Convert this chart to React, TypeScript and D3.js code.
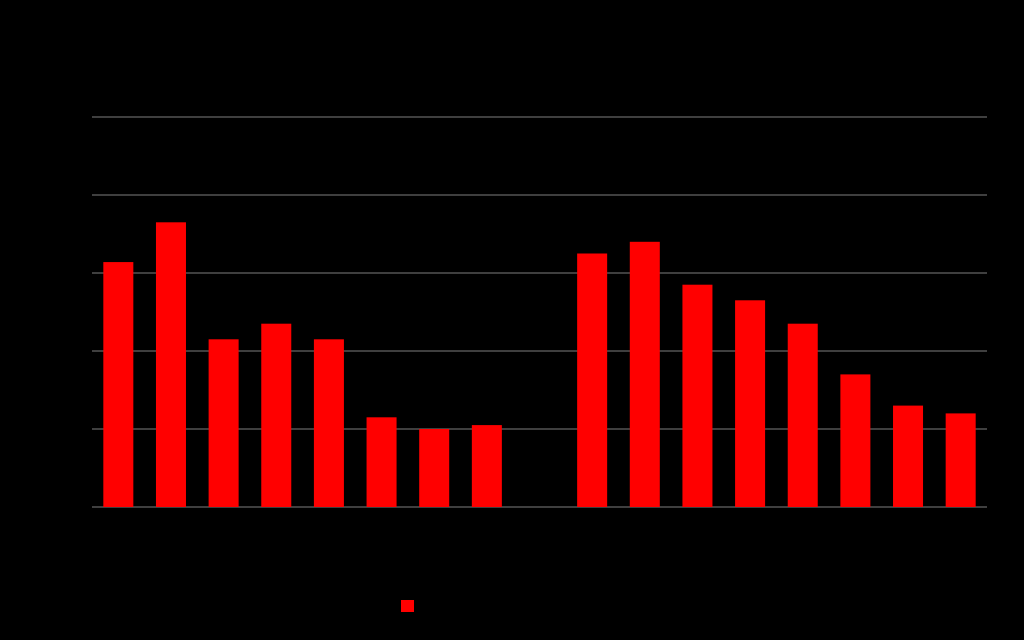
import React from "react";
import * as d3 from "d3";

const categories = ["A1", "A2", "A3", "A4", "A5", "A6", "A7", "A8", "", "B1", "B2", "B3", "B4", "B5", "B6", "B7", "B8"];
const values: (number | null)[] = [3.14, 3.65, 2.15, 2.35, 2.15, 1.15, 1.0, 1.05, null, 3.25, 3.4, 2.85, 2.65, 2.35, 1.7, 1.3, 1.2];
const yTicks = [0, 1, 2, 3, 4, 5];
const seriesName = "Series 1";

export default function App() {
  const W = 1024, H = 640;
  const left = 92, right = 987, top = 117, bottom = 507;
  const x = d3.scaleBand<string>().domain(categories.map((c, i) => c + "|" + i)).range([left, right]).paddingInner(0.43).paddingOuter(0.215);
  const y = d3.scaleLinear().domain([0, 5]).range([bottom, top]);
  return (
    <svg width={W} height={H} style={{ position: "fixed", left: 0, top: 0, background: "#000" }} fontFamily="Liberation Sans, Arial, sans-serif">
      <rect x={0} y={0} width={W} height={H} fill="#000" />
      {yTicks.map((t) => (
        <g key={t}>
          <line x1={left} x2={right} y1={y(t)} y2={y(t)} stroke="#7f7f7f" strokeWidth={1} />
          <text x={left - 8} y={y(t)} dy="0.35em" textAnchor="end" fontSize={12} fill="#000">{t}</text>
        </g>
      ))}
      {categories.map((c, i) => {
        const v = values[i];
        const key = c + "|" + i;
        const bx = x(key)!;
        return (
          <g key={key}>
            {v != null && (
              <rect x={bx} y={y(v)} width={x.bandwidth()} height={bottom - y(v)} fill="#ff0000" />
            )}
            <text x={bx + x.bandwidth() / 2} y={bottom + 18} textAnchor="middle" fontSize={12} fill="#000">{c}</text>
          </g>
        );
      })}
      <rect x={401} y={600} width={13} height={12} fill="#ff0000" />
      <text x={420} y={610} fontSize={12} fill="#000">{seriesName}</text>
    </svg>
  );
}
